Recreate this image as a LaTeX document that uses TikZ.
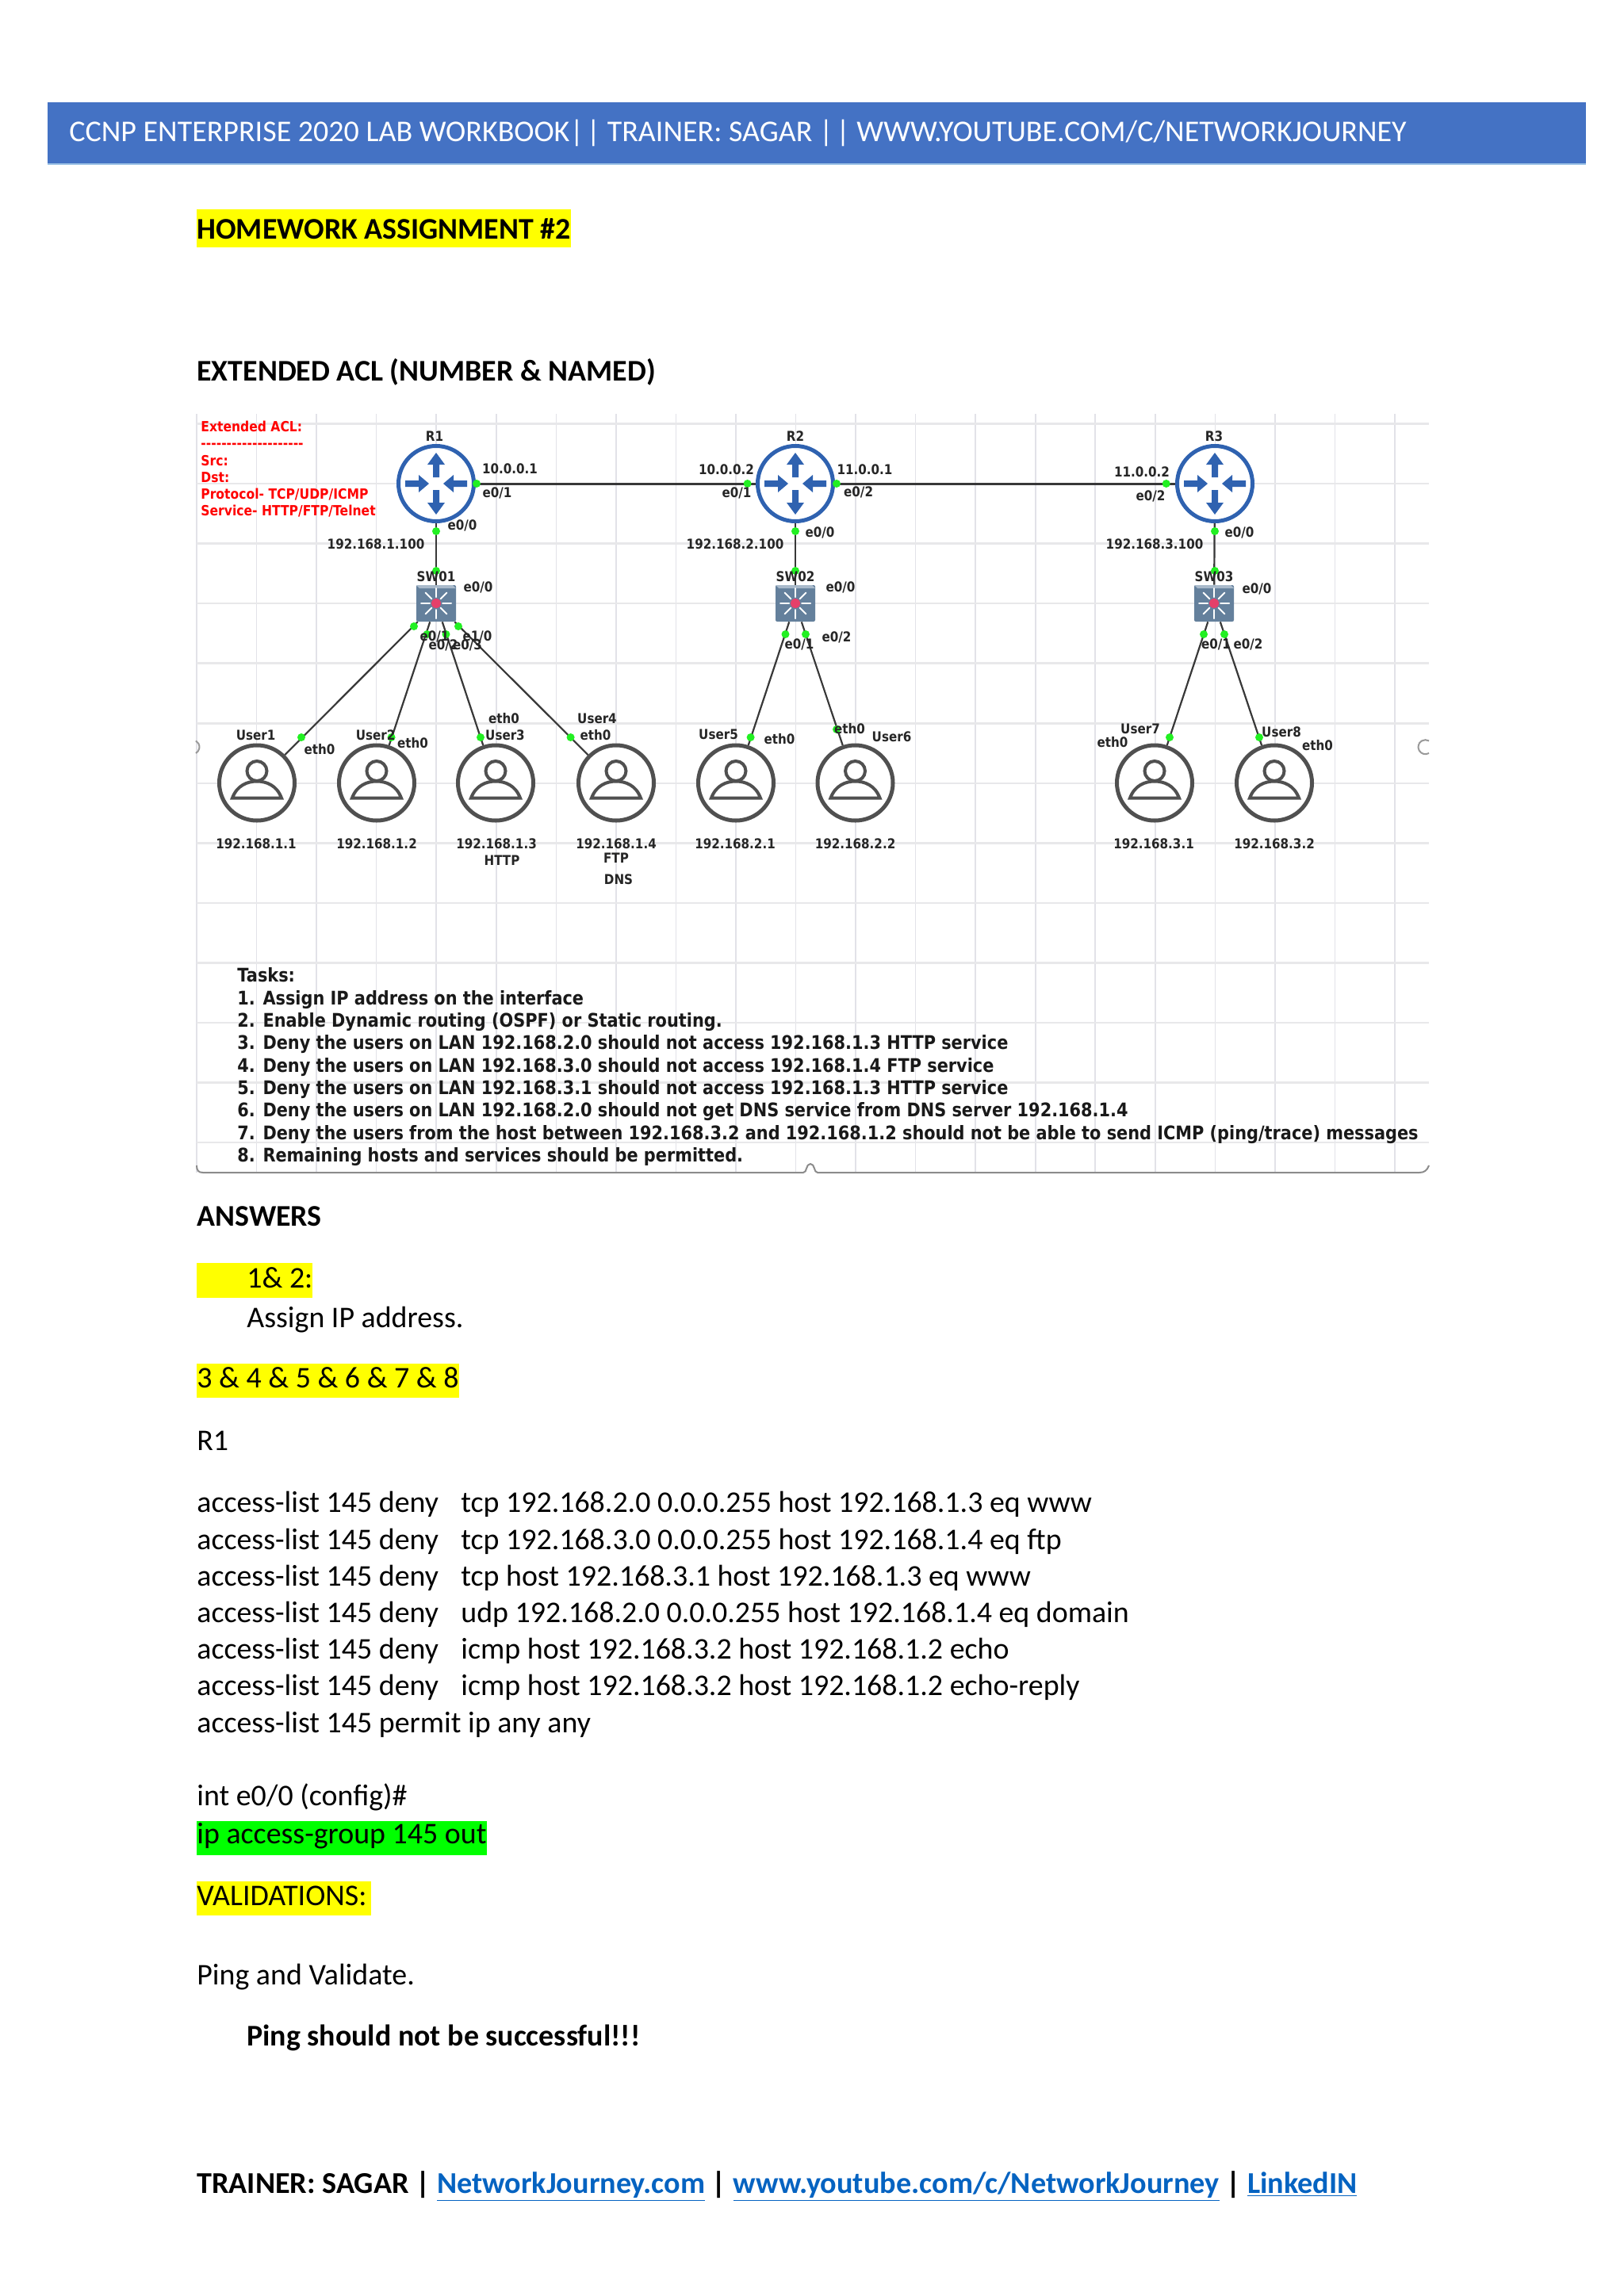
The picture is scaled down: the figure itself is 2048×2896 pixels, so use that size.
\documentclass[tikz,border=0pt]{standalone}
\usepackage{fontspec}
\setmainfont{Carlito}
\newfontfamily\netfont[FakeStretch=0.88]{DejaVu Sans}
\usetikzlibrary{calc}
\definecolor{bannerblue}{HTML}{4472C4}
\definecolor{bannerline}{HTML}{9DC3E6}
\definecolor{markyellow}{HTML}{FFFF00}
\definecolor{markgreen}{HTML}{00FF00}
\definecolor{linkblue}{HTML}{0563C1}
\definecolor{gridh}{HTML}{E8E8EA}
\definecolor{gridv}{HTML}{E2E2E8}
\definecolor{routerblue}{HTML}{2F62B0}
\definecolor{usergrey}{HTML}{505050}
\definecolor{switchbody}{HTML}{64809C}
\definecolor{switchtop}{HTML}{A9BACB}
\definecolor{switchdot}{HTML}{E5406A}
\definecolor{linkgrey}{HTML}{383838}
\definecolor{dotgreen}{HTML}{22F022}
\tikzset{
  x=0.5pt,y=-0.5pt,
  body/.style={inner sep=0pt,anchor=mid west,yshift=-2.5pt,font=\fontsize{18.95}{23}\selectfont,text=black},
  boldbody/.style={body,font=\fontsize{18.95}{23}\selectfont\bfseries},
  lab/.style={inner sep=0pt,font=\netfont\fontsize{8.6}{10}\selectfont\bfseries,text=black!85},
  redlab/.style={inner sep=0pt,anchor=mid west,font=\netfont\fontsize{8.85}{10}\selectfont\bfseries,text=red},
  tasktext/.style={inner sep=0pt,anchor=mid west,yshift=-1pt,font=\netfont\fontsize{11.85}{13}\selectfont\bfseries,text=black!90},
  routernode/.style={circle,draw=routerblue,line width=2.5pt,minimum size=47.5pt,inner sep=0pt,fill=white},
  usernode/.style={circle,draw=usergrey,line width=2.5pt,minimum size=47.5pt,inner sep=0pt,fill=white},
  switchnode/.style={rectangle,rounded corners=1pt,fill=switchbody,minimum width=25pt,minimum height=23pt,inner sep=0pt},
  netlink/.style={draw=linkgrey,line width=1.1pt},
  wanlink/.style={draw=linkgrey,line width=1.5pt},
  gdot/.style={circle,fill=dotgreen,minimum size=5pt,inner sep=0pt},
  routericon/.pic={
    \fill[routerblue] (0,-39)--(11,-24)--(4,-24)--(4,-8)--(-4,-8)--(-4,-24)--(-11,-24)--cycle;
    \fill[routerblue] (0,39)--(11,24)--(4,24)--(4,8)--(-4,8)--(-4,24)--(-11,24)--cycle;
    \fill[routerblue] (-9,0)--(-22,-11)--(-22,-4)--(-39,-4)--(-39,4)--(-22,4)--(-22,11)--cycle;
    \fill[routerblue] (9,0)--(22,-11)--(22,-4)--(39,-4)--(39,4)--(22,4)--(22,11)--cycle;
  },
  usericon/.pic={
    \draw[usergrey,line width=2pt,line join=miter] (-31,19)..controls (-25,3) and (-12,-2)..(0,-2)..controls (12,-2) and (25,3)..(31,19)--cycle;
    \draw[usergrey,line width=2pt,fill=white] (0,-15) circle (12.5);
    \draw[usergrey,line width=1pt] (-31,19)--(31,19);
  },
  switchicon/.pic={
    \fill[switchtop] (-25,-23)--(21,-23)--(25,-19)--(-21,-19)--cycle;
    \foreach \a in {0,45,...,315}{\draw[white,line width=1pt,line cap=round] (\a:8)--(\a:19);}
    \fill[switchdot] (0,0) circle (6);
  }
}
\begin{document}
\begin{tikzpicture}
\useasboundingbox (0,0) rectangle (2048,2896);
\fill[white] (0,0) rectangle (2048,2896);
% banner
\fill[bannerblue] (60,129) rectangle (2000,207);
\draw[bannerline,line width=1pt] (60,207)--(2000,207);
\node[inner sep=0pt,anchor=mid west,yshift=-4pt,text=white,font=\fontsize{19}{23}\selectfont] (bannertext) at (87,166) {CCNP ENTERPRISE 2020 LAB WORKBOOK|\hspace{0.1em}| TRAINER: SAGAR |\hspace{0.1em}| WWW.YOUTUBE.COM/C/NETWORKJOURNEY};
% yellow / green marks
\fill[markyellow] (248,264) rectangle (720,312);
\fill[markyellow] (248,1593) rectangle (394,1637);
\fill[markyellow] (248,1720) rectangle (579,1763);
\fill[markgreen] (248,2297) rectangle (614,2340);
\fill[markyellow] (248,2373) rectangle (468,2416);
% headings
\node[boldbody] (hw) at (248,292) {HOMEWORK ASSIGNMENT \#2};
\node[boldbody] (ext) at (248,471) {EXTENDED ACL (NUMBER \& NAMED)};
% grid
\foreach \k in {0,...,20}{\draw[gridv,line width=0.8pt] ({248+75.55*\k},522)--({248+75.55*\k},1479);}
\foreach \k in {0,...,12}{\draw[gridh,line width=1.3pt] (248,{534.5+75.55*\k})--(1802,{534.5+75.55*\k});}
\draw[black!45,line width=1pt] (248,1470) .. controls (248,1476) and (250,1479) .. (256,1479) -- (1013,1479) .. controls (1018,1479) and (1016,1468) .. (1022,1468) .. controls (1028,1468) and (1026,1479) .. (1031,1479) -- (1790,1479) .. controls (1796,1479) and (1800,1476) .. (1802,1470);
\draw[black!40,line width=1pt] (1802,950) arc (60:300:9);
\draw[black!40,line width=1pt] (247,950) arc (60:-60:9);
% devices
\node[routernode] (R1) at (550,610) {};
\node[routernode] (R2) at (1003,610) {};
\node[routernode] (R3) at (1532,610) {};
\node[switchnode] (SW1) at (550,761) {};
\node[switchnode] (SW2) at (1003,761) {};
\node[switchnode] (SW3) at (1531,761) {};
\node[usernode] (U1) at (324,987.5) {};
\node[usernode] (U2) at (475,987.5) {};
\node[usernode] (U3) at (625,987.5) {};
\node[usernode] (U4) at (777,987.5) {};
\node[usernode] (U5) at (928,987.5) {};
\node[usernode] (U6) at (1078.5,987.5) {};
\node[usernode] (U7) at (1456,987.5) {};
\node[usernode] (U8) at (1607,987.5) {};
% connectors
\draw[wanlink] (R1)--(R2);
\draw[wanlink] (R2)--(R3);
\draw[netlink] (R1)--(SW1);
\draw[netlink] (R2)--(SW2);
\draw[netlink] (R3)--(SW3);
\draw[netlink] (SW1)--(U1);
\draw[netlink] (SW1)--(U2);
\draw[netlink] (SW1)--(U3);
\draw[netlink] (SW1)--(U4);
\draw[netlink] (SW2)--(U5);
\draw[netlink] (SW2)--(U6);
\draw[netlink] (SW3)--(U7);
\draw[netlink] (SW3)--(U8);
% icons
\foreach \n in {R1,R2,R3}{\pic at (\n) {routericon};}
\foreach \n in {SW1,SW2,SW3}{\pic at (\n) {switchicon};}
\foreach \n in {U1,U2,U3,U4,U5,U6,U7,U8}{\pic at (\n) {usericon};}
% dots
\node[gdot] (d1) at (601,610) {};
\node[gdot] (d2) at (942.6,610) {};
\node[gdot] (d3) at (1055,610) {};
\node[gdot] (d4) at (1470.7,610) {};
\node[gdot] (d5) at (550,670) {};
\node[gdot] (d6) at (1003,670) {};
\node[gdot] (d7) at (1532,670) {};
\node[gdot] (d8) at (550,720) {};
\node[gdot] (d9) at (1003,720) {};
\node[gdot] (d10) at (1532,720) {};
\node[gdot] (d11) at (522,790) {};
\node[gdot] (d12) at (538.5,800) {};
\node[gdot] (d13) at (562.5,800) {};
\node[gdot] (d14) at (578,790) {};
\node[gdot] (d15) at (990.5,800) {};
\node[gdot] (d16) at (1016,800) {};
\node[gdot] (d17) at (1518,800) {};
\node[gdot] (d18) at (1544,800) {};
\node[gdot] (d19) at (380,930) {};
\node[gdot] (d20) at (493.6,930) {};
\node[gdot] (d21) at (606,930) {};
\node[gdot] (d22) at (719.6,930) {};
\node[gdot] (d23) at (946.6,930) {};
\node[gdot] (d24) at (1055,920) {};
\node[gdot] (d25) at (1475,930) {};
\node[gdot] (d26) at (1588,930) {};
% red notes
\node[redlab] (n1) at (253,540) {Extended ACL:};
\node[redlab] (n2) at (253,561) {--------------------};
\node[redlab] (n3) at (253,583) {Src:};
\node[redlab] (n4) at (253,604) {Dst:};
\node[redlab] (n5) at (253,625) {Protocol- TCP/UDP/ICMP};
\node[redlab] (n6) at (253,646) {Service- HTTP/FTP/Telnet};
% network labels
\node[lab] (l1) at (548,550) {R1};
\node[lab] (l2) at (1003,550) {R2};
\node[lab] (l3) at (1531,550) {R3};
\node[lab] (l4) at (643,591) {10.0.0.1};
\node[lab] (l5) at (627,622) {e0/1};
\node[lab] (l6) at (583,663) {e0/0};
\node[lab] (l7) at (474,686) {192.168.1.100};
\node[lab] (l8) at (550,727.5) {SW01};
\node[lab] (l9) at (603,741) {e0/0};
\node[lab] (l10) at (548,803) {e0/1};
\node[lab] (l11) at (602,803) {e1/0};
\node[lab] (l12) at (559,814) {e0/2};
\node[lab] (l13) at (589.5,814) {e0/3};
\node[lab] (l14) at (403,945.5) {eth0};
\node[lab] (l15) at (322.6,927) {User1};
\node[lab] (l16) at (520.6,937) {eth0};
\node[lab] (l17) at (473.7,927) {User2};
\node[lab] (l18) at (635.4,906) {eth0};
\node[lab] (l19) at (637,927) {User3};
\node[lab] (l20) at (753,906) {User4};
\node[lab] (l21) at (751,927) {eth0};
\node[lab] (l22) at (906,926) {User5};
\node[lab] (l23) at (983,931.6) {eth0};
\node[lab] (l24) at (323,1064) {192.168.1.1};
\node[lab] (l25) at (475,1064) {192.168.1.2};
\node[lab] (l26) at (626,1064) {192.168.1.3};
\node[lab] (l27) at (777,1064) {192.168.1.4};
\node[lab] (l28) at (927,1064) {192.168.2.1};
\node[lab] (l29) at (633,1085) {HTTP};
\node[lab] (l30) at (777,1082) {FTP};
\node[lab] (l31) at (780,1109) {DNS};
\node[lab] (l32) at (916,592.5) {10.0.0.2};
\node[lab] (l33) at (929,622) {e0/1};
\node[lab] (l34) at (1034,672) {e0/0};
\node[lab] (l35) at (927,686) {192.168.2.100};
\node[lab] (l36) at (1003,727.5) {SW02};
\node[lab] (l37) at (1060,741) {e0/0};
\node[lab] (l38) at (1008,813) {e0/1};
\node[lab] (l39) at (1055,804) {e0/2};
\node[lab] (l40) at (1090.5,592.5) {11.0.0.1};
\node[lab] (l41) at (1082.6,621) {e0/2};
\node[lab] (l42) at (1440,595) {11.0.0.2};
\node[lab] (l43) at (1451,625.5) {e0/2};
\node[lab] (l44) at (1563,672) {e0/0};
\node[lab] (l45) at (1456,686) {192.168.3.100};
\node[lab] (l46) at (1531,727.5) {SW03};
\node[lab] (l47) at (1585,743) {e0/0};
\node[lab] (l48) at (1533.5,813) {e0/1};
\node[lab] (l49) at (1574,813) {e0/2};
\node[lab] (l50) at (1071.6,919) {eth0};
\node[lab] (l51) at (1124.5,929) {User6};
\node[lab] (l52) at (1078.5,1064) {192.168.2.2};
\node[lab] (l53) at (1438,919) {User7};
\node[lab] (l54) at (1403,936) {eth0};
\node[lab] (l55) at (1616,923.5) {User8};
\node[lab] (l56) at (1661.6,940) {eth0};
\node[lab] (l57) at (1455,1064) {192.168.3.1};
\node[lab] (l58) at (1607,1064) {192.168.3.2};
% tasks
\node[tasktext] (t0) at (299,1232) {Tasks:};
\node[tasktext] (t1) at (299,1261) {1. Assign IP address on the interface};
\node[tasktext] (t2) at (299,1289) {2. Enable Dynamic routing (OSPF) or Static routing.};
\node[tasktext] (t3) at (299,1317) {3. Deny the users on LAN 192.168.2.0 should not access 192.168.1.3 HTTP service};
\node[tasktext] (t4) at (299,1346) {4. Deny the users on LAN 192.168.3.0 should not access 192.168.1.4 FTP service};
\node[tasktext] (t5) at (299,1374) {5. Deny the users on LAN 192.168.3.1 should not access 192.168.1.3 HTTP service};
\node[tasktext] (t6) at (299,1402) {6. Deny the users on LAN 192.168.2.0 should not get DNS service from DNS server 192.168.1.4};
\node[tasktext] (t7) at (299,1431) {7. Deny the users from the host between 192.168.3.2 and 192.168.1.2 should not be able to send ICMP (ping/trace) messages};
\node[tasktext] (t8) at (299,1459) {8. Remaining hosts and services should be permitted.};
% body text
\node[boldbody] (ans) at (248,1537) {ANSWERS};
\node[body] (a1) at (311,1615) {1\& 2:};
\node[body] (a2) at (311,1665) {Assign IP address.};
\node[body] (a3) at (248,1741) {3 \& 4 \& 5 \& 6 \& 7 \& 8};
\node[body] (a4) at (248,1820) {R1};
\node[body] (c1) at (248,1898) {access-list 145 deny};
\node[body] (c1b) at (581,1898) {tcp 192.168.2.0 0.0.0.255 host 192.168.1.3 eq www};
\node[body] (c2) at (248,1944.5) {access-list 145 deny};
\node[body] (c2b) at (581,1944.5) {tcp 192.168.3.0 0.0.0.255 host 192.168.1.4 eq ftp};
\node[body] (c3) at (248,1991) {access-list 145 deny};
\node[body] (c3b) at (581,1991) {tcp host 192.168.3.1 host 192.168.1.3 eq www};
\node[body] (c4) at (248,2037) {access-list 145 deny};
\node[body] (c4b) at (581,2037) {udp 192.168.2.0 0.0.0.255 host 192.168.1.4 eq domain};
\node[body] (c5) at (248,2083) {access-list 145 deny};
\node[body] (c5b) at (581,2083) {icmp host 192.168.3.2 host 192.168.1.2 echo};
\node[body] (c6) at (248,2129) {access-list 145 deny};
\node[body] (c6b) at (581,2129) {icmp host 192.168.3.2 host 192.168.1.2 echo-reply};
\node[body] (c7) at (248,2175.5) {access-list 145 permit ip any any};
\node[body] (c8) at (248,2268) {int e0/0 (config)\#};
\node[body] (c9) at (248,2316) {ip access-group 145 out};
\node[body] (c10) at (248,2394) {VALIDATIONS:};
\node[body] (c11) at (248,2494) {Ping and Validate.};
\node[boldbody] (c12) at (311,2571) {Ping should not be successful!!!};
\node[boldbody,font=\fontsize{19.1}{23}\selectfont\bfseries] (foot) at (248,2757) {TRAINER: SAGAR | \textcolor{linkblue}{\underline{NetworkJourney.com}} | \textcolor{linkblue}{\underline{www.youtube.com/c/NetworkJourney}} | \textcolor{linkblue}{\underline{LinkedIN}}};
\end{tikzpicture}
\end{document}
